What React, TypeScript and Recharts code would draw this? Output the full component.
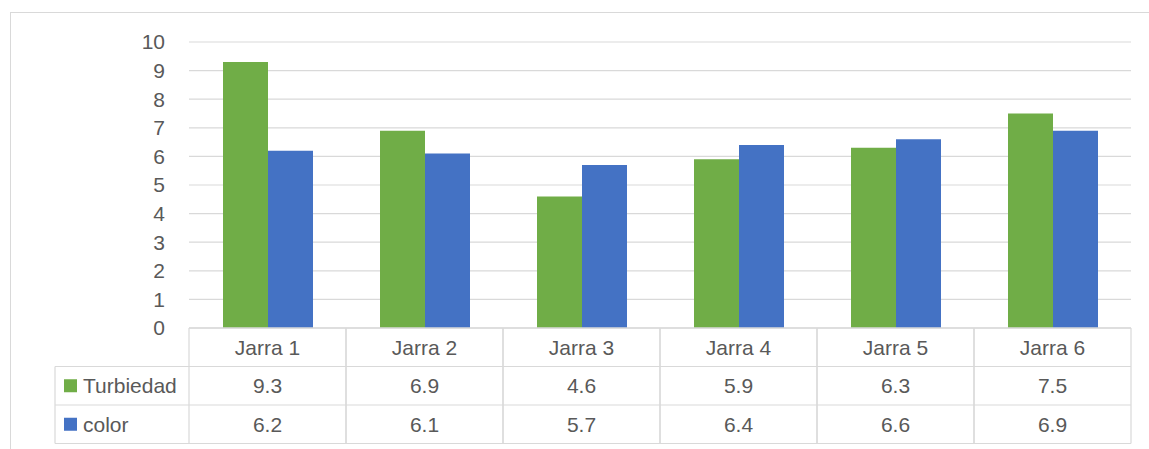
import React from 'react';
import { BarChart, Bar, XAxis, YAxis, CartesianGrid } from 'recharts';

const categories = ['Jarra 1', 'Jarra 2', 'Jarra 3', 'Jarra 4', 'Jarra 5', 'Jarra 6'];
const turbiedad = [9.3, 6.9, 4.6, 5.9, 6.3, 7.5];
const colorValues = [6.2, 6.1, 5.7, 6.4, 6.6, 6.9];
const seriesNames = ['Turbiedad', 'color'];
const seriesColors = ['#70AD47', '#4472C4'];
const yTicks = [0, 1, 2, 3, 4, 5, 6, 7, 8, 9, 10];

const data = categories.map((c, i) => ({ name: c, Turbiedad: turbiedad[i], color: colorValues[i] }));
const seriesValues = [turbiedad, colorValues];

const W = 1149;
const H = 449;
const MARGIN = { top: 42, right: 18, left: 0, bottom: 0 };
const Y_AXIS_W = 189;
const X_AXIS_H = 121;
const COL_W = (W - MARGIN.left - MARGIN.right - Y_AXIS_W) / categories.length;
const ROW_H = 38.5;
const LEGEND_COL_W = 134;
const FONT = '"Liberation Sans", Arial, sans-serif';
const TEXT = '#595959';
const LINE = '#d9d9d9';
const FS = 21;

const TableTick = (props: any) => {
  const { x, y, payload } = props;
  const i = payload.index;
  const left = x - COL_W / 2;
  const right = x + COL_W / 2;
  const bottom = y + ROW_H * 3;
  const els: any[] = [];
  // vertical lines
  els.push(<line key="vl" x1={left} x2={left} y1={y} y2={bottom} stroke={LINE} strokeWidth={1.2} />);
  els.push(<line key="vr" x1={right} x2={right} y1={y} y2={bottom} stroke={LINE} strokeWidth={1.2} />);
  for (let r = 0; r <= 3; r++) {
    els.push(
      <line key={'h' + r} x1={left} x2={right} y1={y + ROW_H * r} y2={y + ROW_H * r} stroke={LINE} strokeWidth={1.2} />
    );
  }
  els.push(
    <text key="hdr" x={x} y={y + ROW_H / 2} dy="0.355em" textAnchor="middle" fill={TEXT} fontSize={FS} fontFamily={FONT}>
      {categories[i]}
    </text>
  );
  seriesValues.forEach((vals, s) => {
    els.push(
      <text key={'v' + s} x={x} y={y + ROW_H * (s + 1.5)} dy="0.355em" textAnchor="middle" fill={TEXT} fontSize={FS} fontFamily={FONT}>
        {vals[i].toFixed(1)}
      </text>
    );
  });
  if (i === 0) {
    const l0 = left - LEGEND_COL_W;
    els.push(<line key="lvl" x1={l0} x2={l0} y1={y + ROW_H} y2={bottom} stroke={LINE} strokeWidth={1.2} />);
    for (let r = 1; r <= 3; r++) {
      els.push(
        <line key={'lh' + r} x1={l0} x2={left} y1={y + ROW_H * r} y2={y + ROW_H * r} stroke={LINE} strokeWidth={1.2} />
      );
    }
    seriesNames.forEach((nm, s) => {
      const cy = y + ROW_H * (s + 1.5);
      els.push(<rect key={'lr' + s} x={l0 + 9} y={cy - 6.5} width={13} height={13} fill={seriesColors[s]} />);
      els.push(
        <text key={'lt' + s} x={l0 + 28} y={cy} dy="0.355em" textAnchor="start" fill={TEXT} fontSize={FS} fontFamily={FONT}>
          {nm}
        </text>
      );
    });
  }
  return <g>{els}</g>;
};

export default function App() {
  return (
    <div style={{ position: 'absolute', left: 0, top: 0, width: W, height: H, background: '#fff', overflow: 'hidden' }}>
      <div style={{ position: 'absolute', left: 10, top: 12, width: W - 10, height: 1, background: LINE }} />
      <div style={{ position: 'absolute', left: 10, top: 12, width: 1, height: H - 12, background: LINE }} />
      <div style={{ position: 'absolute', left: 0, top: 0 }}>
        <BarChart width={W} height={H} data={data} margin={MARGIN} barGap={0} barSize={45}>
          <CartesianGrid vertical={false} stroke={LINE} strokeWidth={1.2} />
          <YAxis
            width={Y_AXIS_W}
            domain={[0, 10]}
            ticks={yTicks}
            interval={0}
            axisLine={false}
            tickLine={false}
            tickMargin={18}
            tick={{ fill: TEXT, fontSize: FS, fontFamily: FONT }}
          />
          <XAxis
            dataKey="name"
            height={X_AXIS_H}
            interval={0}
            axisLine={{ stroke: LINE, strokeWidth: 1.2 }}
            tickLine={false}
            tickSize={0}
            tickMargin={0}
            tick={<TableTick />}
          />
          <Bar dataKey="Turbiedad" fill={seriesColors[0]} isAnimationActive={false} />
          <Bar dataKey="color" fill={seriesColors[1]} isAnimationActive={false} />
        </BarChart>
      </div>
    </div>
  );
}
